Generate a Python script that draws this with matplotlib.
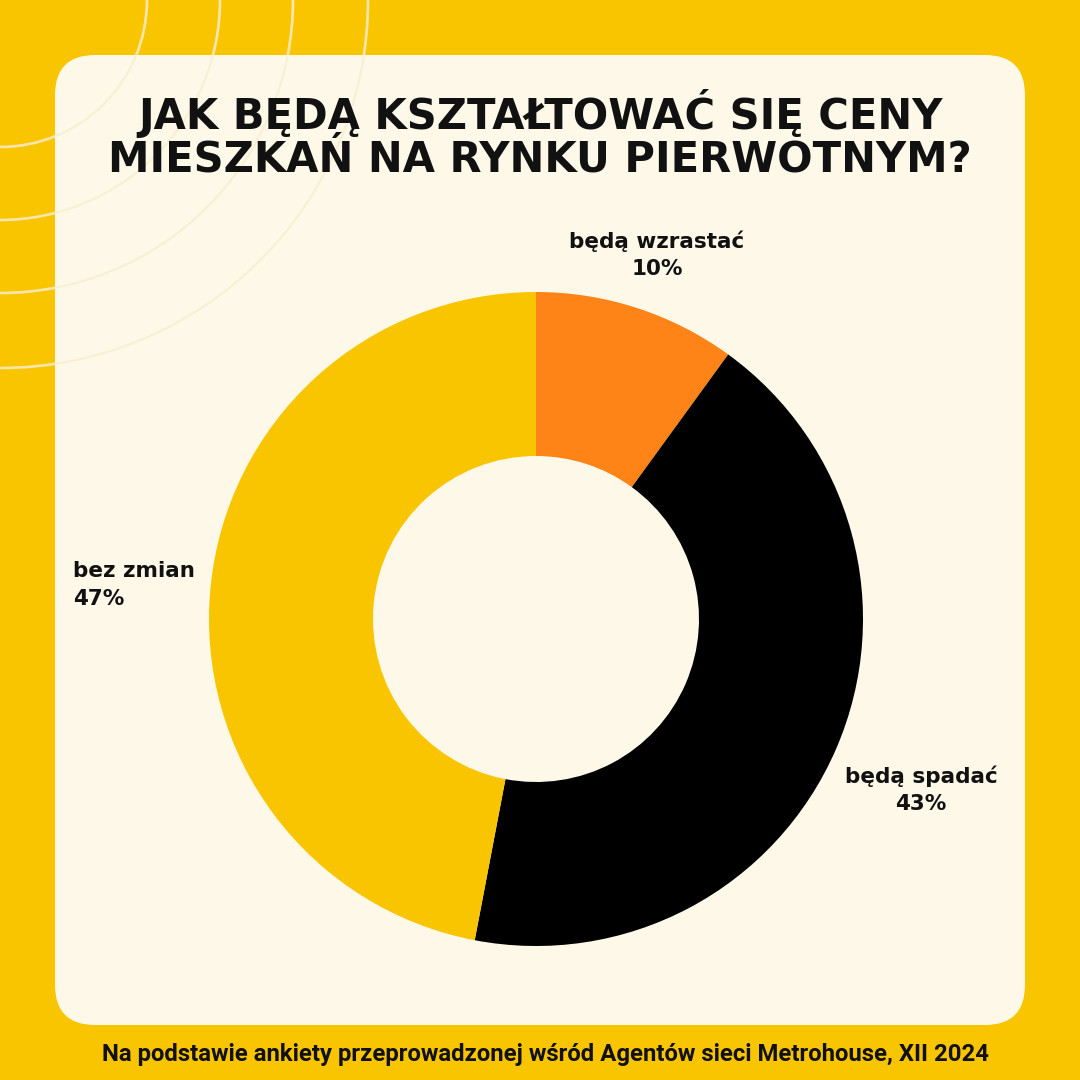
import matplotlib
matplotlib.use("Agg")
import matplotlib.pyplot as plt
from matplotlib.patches import FancyBboxPatch, Arc

categories = ["będą wzrastać", "będą spadać", "bez zmian"]
values = [10, 43, 47]
colors = ["#FF8418", "#000000", "#F8C500"]
title_lines = ["JAK BĘDĄ KSZTAŁTOWAĆ SIĘ CENY", "MIESZKAŃ NA RYNKU PIERWOTNYM?"]
footer = "Na podstawie ankiety przeprowadzonej wśród Agentów sieci Metrohouse, XII 2024"

BG = "#F8C500"
CARD = "#FDF8E8"

fig = plt.figure(figsize=(10.8, 10.8), dpi=100)
fig.patch.set_facecolor(BG)
ax = fig.add_axes([0, 0, 1, 1])

# decorative arcs (top-left), centred at the corner
for r in [147, 220, 293, 368]:
    ax.add_patch(Arc((0, 1080), 2 * r, 2 * r, theta1=270, theta2=360,
                     color="#FBE08A", lw=2, zorder=1))

# card
card = FancyBboxPatch((55 + 40, 55 + 40), 970 - 80, 970 - 80,
                      boxstyle="round,pad=40", fc=CARD, ec="none", zorder=2)
ax.add_patch(card)
for r in [147, 220, 293, 368]:
    ax.add_patch(Arc((0, 1080), 2 * r, 2 * r, theta1=270, theta2=360,
                     color="#F6EBC4", lw=1.5, alpha=0.6, zorder=3))

# donut
wedges, _ = ax.pie(values, colors=colors, startangle=90, counterclock=False,
                   radius=327, center=(536, 461),
                   wedgeprops=dict(width=164, edgecolor="none"), frame=True)
for w in wedges:
    w.set_zorder(4)
ax.set_xlim(0, 1080)
ax.set_ylim(0, 1080)
ax.set_aspect("equal")
ax.axis("off")

lab_font = dict(family=["DejaVu Sans"], fontsize=15.5, fontweight="bold",
                color="#111111", zorder=5, linespacing=1.45)
ax.text(657, 1080 - 255, f"{categories[0]}\n{values[0]}%", ha="center", va="center", **lab_font)
ax.text(921, 1080 - 790, f"{categories[1]}\n{values[1]}%", ha="center", va="center", **lab_font)
ax.text(73, 1080 - 585, f"{categories[2]}\n{values[2]}%", ha="left", va="center", **lab_font)

# title
for i, line in enumerate(title_lines):
    ax.text(540, 1080 - (113 + 47 * i), line, ha="center", va="center",
            family=["DejaVu Sans"], fontsize=30, fontweight="bold",
            color="#111111", zorder=5)

ax.text(545, 1080 - 1055, footer, ha="center", va="center",
        family=["Roboto", "DejaVu Sans"], fontsize=17.2, fontweight="bold",
        color="#111111", zorder=5)

fig.savefig("out.png", dpi=100, facecolor=BG)
